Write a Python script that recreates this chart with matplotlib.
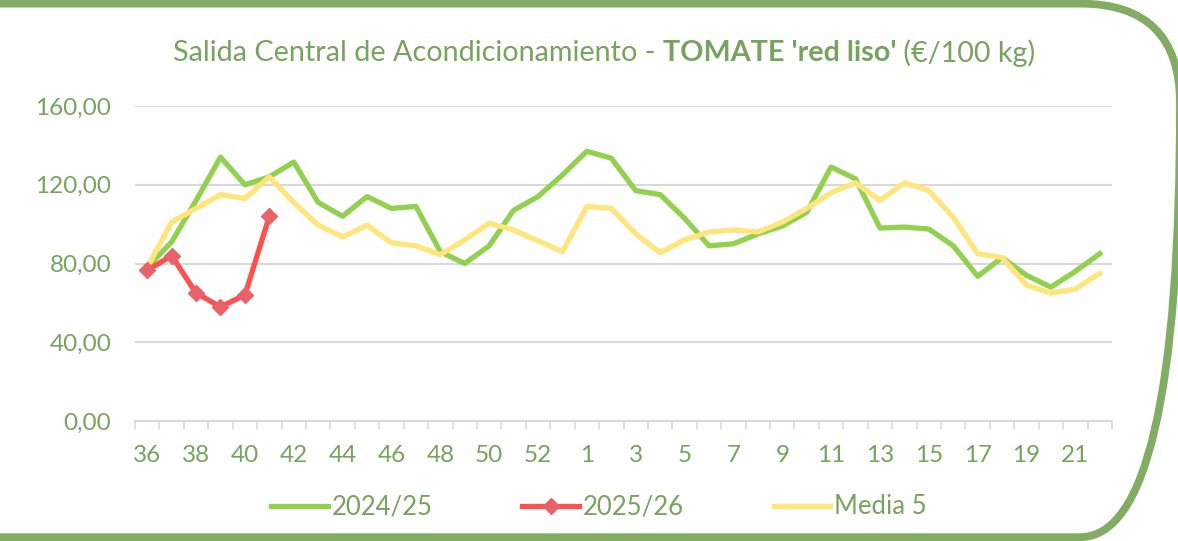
import numpy as np
import matplotlib.pyplot as plt
from matplotlib.patches import FancyBboxPatch

plt.rcParams['font.family'] = ['Lato', 'DejaVu Sans']

# semanas de campaña (36..53, 1..22)
weeks = list(range(36, 54)) + list(range(1, 23))

s2425 = [78, 91, 112, 134, 120, 124, 131.5, 111, 104, 114, 108, 109, 86, 80,
         89, 107, 114, 125, 137, 133.5, 117, 115, 103, 89, 90, 95, 99, 106,
         129, 123, 98, 98.5, 97.5, 89, 73.5, 83, 74, 68, 76, 85]
s2526 = [76.5, 84, 65, 58, 64, 104]
media5 = [78, 101, 108, 115, 113, 124, 111, 99.5, 93.5, 99.5, 90.5, 89, 84.5, 92,
          100.5, 97, 91.5, 86, 109, 108, 95, 85.5, 92, 96, 97, 96, 101, 108,
          116, 121, 112, 121, 117, 103.5, 85, 83, 69, 65, 67, 75]

txt = '#77A35E'
frame = '#82AC64'

fig = plt.figure(figsize=(11.78, 5.41), dpi=100)

# marco redondeado, dibujado en pixeles
fax = fig.add_axes([0, 0, 1, 1], zorder=-1)
fax.set_xlim(0, 1178)
fax.set_ylim(541, 0)
fax.axis('off')
fax.add_patch(FancyBboxPatch((-200, 3.6), 1380, 533.6,
                             boxstyle='round,pad=0,rounding_size=100',
                             fill=False, edgecolor=frame, linewidth=5.6))

ax = fig.add_axes([135 / 1178, 1 - 421 / 541, (1112 - 135) / 1178, (421 - 106) / 541])
ax.patch.set_alpha(0)
x = np.arange(len(weeks))
ax.plot(x, s2425, color='#92D050', lw=3.8, label='2024/25', zorder=3)
ax.plot(x[:len(s2526)], s2526, color='#FF4F4F', lw=3.8, marker='D', ms=8,
        mfc='#E8626A', mec='#E8626A', label='2025/26', zorder=4)
ax.plot(x, media5, color='#FFE57C', lw=3.8, label='Media 5', zorder=3)

ax.set_xlim(-0.5, len(weeks) - 0.5)
ax.set_ylim(0, 160)
ax.set_yticks([0, 40, 80, 120, 160])
ax.set_yticklabels(['0,00', '40,00', '80,00', '120,00', '160,00'])
ax.set_xticks(x[::2])
ax.set_xticklabels([str(w) for w in weeks[::2]])
ax.set_xticks(np.arange(-0.5, len(weeks)), minor=True)
ax.grid(axis='y', color='#D9D9D9', lw=1.5)
ax.set_axisbelow(True)
for s in ['top', 'right', 'left']:
    ax.spines[s].set_visible(False)
ax.spines['bottom'].set_color('#D9D9D9')
ax.spines['bottom'].set_linewidth(1.5)
ax.tick_params(axis='x', which='major', length=0, pad=17, labelsize=17.5, labelcolor=txt)
ax.tick_params(axis='x', which='minor', length=6, width=1.2, color='#D9D9D9', direction='out')
ax.tick_params(axis='y', length=0, pad=17, labelsize=17.5, labelcolor=txt)

# titulo en tres partes para la negrita
parts = [("Salida Central de Acondicionamiento - ", 'normal'),
         ("TOMATE 'red liso'", 'bold'),
         (" (\u20ac/100 kg)", 'normal')]
fig.canvas.draw()
r = fig.canvas.get_renderer()
widths = []
objs = []
for s, w in parts:
    o = fig.text(0, 1 - 53 / 541, s, fontsize=20.7, fontweight=w, color=txt, va='center')
    objs.append(o)
    widths.append(o.get_window_extent(r).width)
xpos = (604 - sum(widths) / 2)
for o, wd in zip(objs, widths):
    o.set_x(xpos / 1178)
    xpos += wd

leg = fig.legend(loc='center', bbox_to_anchor=(599 / 1178, 1 - 507 / 541), ncol=3, frameon=False,
                 fontsize=18.5, labelcolor=txt, handlelength=2.2, handletextpad=0.15,
                 columnspacing=3.5)

fig.savefig('out.png', dpi=100)
